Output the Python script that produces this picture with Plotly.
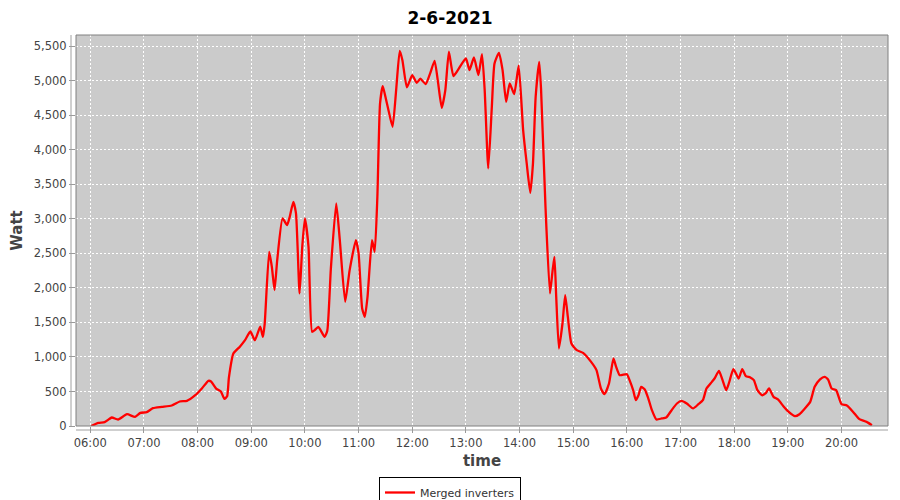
import plotly.graph_objects as go

date = "2021-06-02"
times = ["06:01","06:09","06:16","06:24","06:31","06:41","06:50","06:56","07:03","07:10","07:20","07:31","07:40","07:48","07:57",
         "08:05","08:12","08:15","08:21","08:26","08:30","08:33","08:35","08:40","08:47","08:53","08:59","09:04","09:10","09:13",
         "09:15","09:20","09:23","09:26","09:29","09:35","09:40","09:43","09:47","09:50","09:54","09:57","10:00","10:04","10:08",
         "10:11","10:15","10:22","10:25","10:29","10:35","10:39","10:45","10:50","10:57","11:00","11:04","11:07","11:10","11:15",
         "11:18","11:21","11:24","11:27","11:30","11:33","11:38","11:42","11:46","11:49","11:54","12:00","12:05","12:09","12:15",
         "12:20","12:25","12:29","12:33","12:37","12:41","12:46","12:51","13:00","13:04","13:09","13:14","13:18","13:21","13:25",
         "13:29","13:32","13:37","13:41","13:45","13:49","13:54","13:59","14:04","14:08","14:12","14:15","14:18","14:22","14:24",
         "14:29","14:34","14:37","14:39","14:41","14:44","14:48","14:51","14:54","14:58","15:04","15:11","15:20","15:26","15:31",
         "15:35","15:40","15:45","15:48","15:52","16:00","16:03","16:07","16:10","16:13","16:16","16:20","16:24","16:28","16:33",
         "16:39","16:44","16:50","16:56","17:01","17:07","17:14","17:20","17:25","17:29","17:35","17:38","17:43","17:47","17:51",
         "17:54","17:59","18:02","18:05","18:09","18:13","18:18","18:22","18:26","18:31","18:35","18:39","18:44","18:49","18:55",
         "19:01","19:08","19:13","19:19","19:25","19:30","19:36","19:41","19:45","19:49","19:54","20:00","20:06","20:13","20:20",
         "20:28","20:34"]
watts = [0,45,55,123,94,171,132,190,200,258,277,297,355,364,442,
         548,654,645,538,500,393,432,703,1050,1146,1243,1369,1243,1440,1291,
         1480,2523,2305,1968,2402,3007,2910,3030,3247,3079,1920,2595,3007,2595,1364,
         1390,1436,1291,1380,2282,3224,2692,1798,2258,2692,2500,1703,1581,1871,2692,
         2523,3320,4673,4924,4769,4600,4334,4866,5435,5300,4905,5083,4972,5030,4953,
         5108,5290,4963,4609,4866,5421,5069,5156,5325,5156,5339,5083,5387,4866,3731,
         4624,5252,5406,5156,4696,4963,4808,5220,4286,3804,3378,3804,4769,5276,4890,
         3175,1920,2258,2450,1871,1123,1485,1895,1581,1195,1098,1059,929,809,543,
         461,616,978,856,736,751,664,519,374,446,567,529,398,229,94,
         109,123,229,326,364,326,254,316,374,543,639,688,798,664,519,
         616,823,761,688,823,722,703,664,519,446,471,543,422,384,287,
         204,142,171,254,349,567,674,712,674,543,519,316,297,204,99,
         60,12]
xticks = ["06:00","07:00","08:00","09:00","10:00","11:00","12:00","13:00","14:00","15:00","16:00","17:00","18:00","19:00","20:00"]

x = [f"{date} {t}" for t in times]

# the page body has an 8px margin, so the figure is sized to fill the rest of the 900x500 window
W, H, OFF = 892, 492, 8

fig = go.Figure()
fig.add_trace(go.Scatter(x=x, y=watts, mode="lines", name="Merged inverters",
                         line=dict(color="#FF0000", width=2.3, shape="spline", smoothing=0.5)))

font = "DejaVu Sans, Verdana, sans-serif"
fig.update_layout(
    width=W, height=H,
    margin=dict(l=76 - OFF, r=12, t=35 - OFF, b=74, autoexpand=False),
    paper_bgcolor="white", plot_bgcolor="#CBCBCB",
    title=dict(text="<b>2-6-2021</b>", x=(450 - OFF) / W, xanchor="center", xref="container",
               y=1 - 4 / H, yanchor="top",
               font=dict(family=font, size=17, color="black")),
    showlegend=True,
    legend=dict(xref="container", yref="container", x=(450 - OFF) / W, xanchor="center",
                y=1 - (477 - OFF) / H, yanchor="top",
                orientation="h", bordercolor="black", borderwidth=1, bgcolor="white",
                font=dict(family=font, size=11, color="#333"), itemwidth=30,
                tracegroupgap=0),
    font=dict(family=font, color="#444"),
)
fig.update_xaxes(
    range=[f"{date} 05:44", f"{date} 20:52"], automargin=False,
    tickvals=[f"{date} {t}" for t in xticks], ticktext=xticks,
    showgrid=True, gridcolor="white", griddash="2px,2px", gridwidth=1,
    ticks="outside", ticklen=6, tickcolor="#999", zeroline=False, showline=False,
    tickfont=dict(family=font, size=11.5, color="#444"),
    title=dict(text="<b>time</b>", font=dict(family=font, size=15, color="#444"), standoff=6),
)
fig.update_yaxes(
    range=[0, 5664], tickmode="linear", tick0=0, dtick=500, tickformat=",", automargin=False,
    showgrid=True, gridcolor="white", griddash="2px,2px", gridwidth=1,
    ticks="outside", ticklen=6, tickcolor="#999", zeroline=False, showline=False,
    tickfont=dict(family=font, size=11.5, color="#444"),
    title=dict(text="<b>Watt</b>", font=dict(family=font, size=15, color="#444"), standoff=10),
)
# plot outline
fig.add_shape(type="rect", xref="paper", yref="paper", x0=0, x1=1, y0=0, y1=1,
              line=dict(color="#808080", width=1), layer="above")
# offset axis lines
fig.add_shape(type="line", xref="paper", yref="paper", x0=-5 / 812, x1=-5 / 812, y0=0, y1=1,
              line=dict(color="#A0A0A0", width=1))
fig.add_shape(type="line", xref="paper", yref="paper", x0=0, x1=1, y0=-4 / 391, y1=-4 / 391,
              line=dict(color="#A0A0A0", width=1))

fig.write_html("out.html")
